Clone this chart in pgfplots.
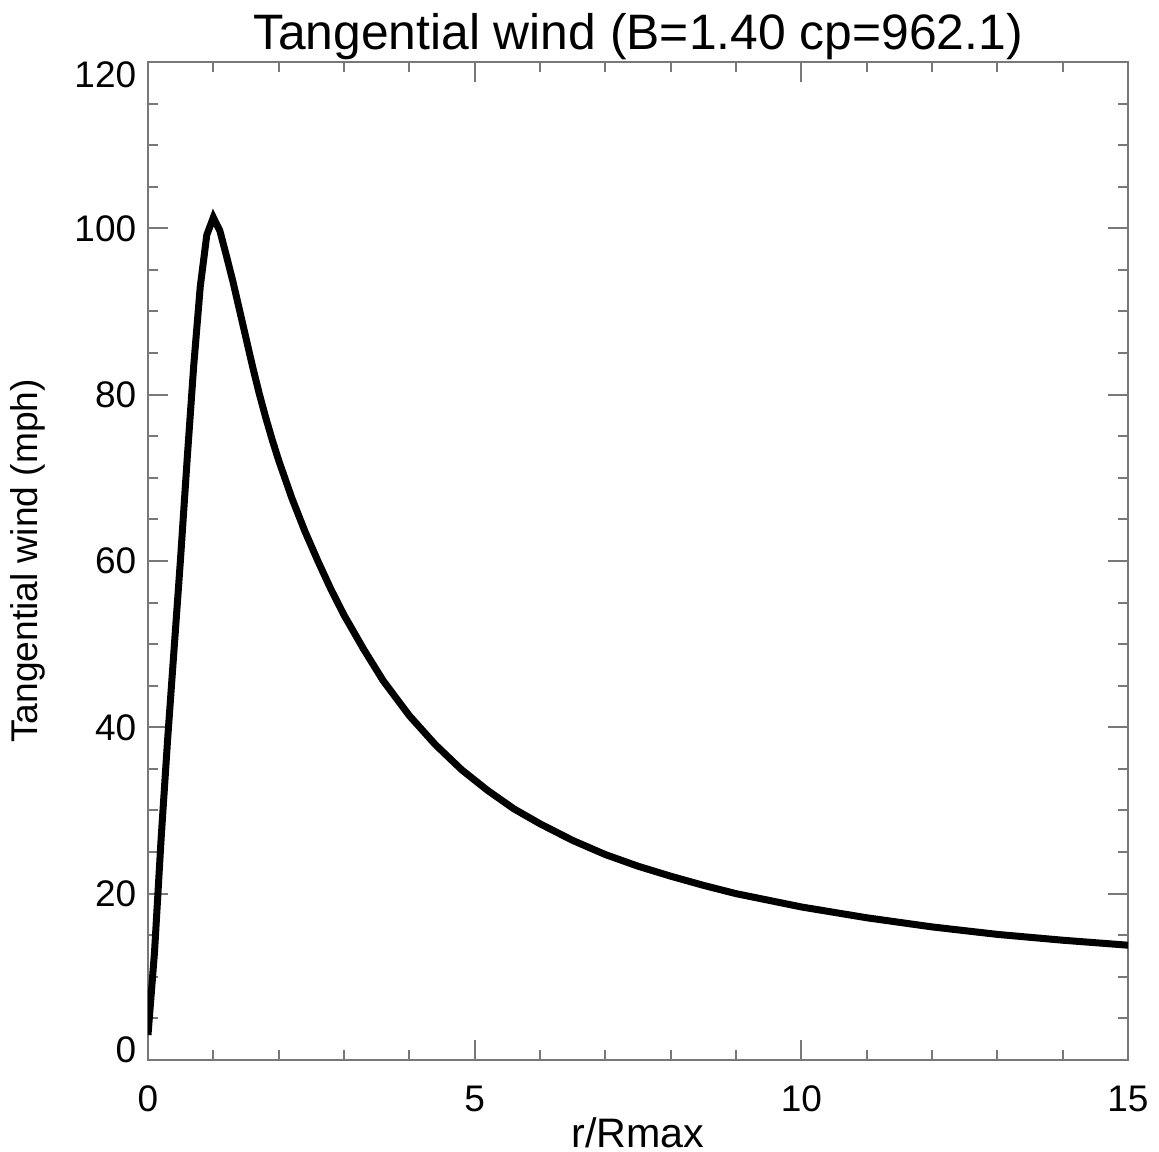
\documentclass[border=0pt]{standalone}
\usepackage{fontspec}
\setmainfont{Liberation Sans}
\usepackage{pgfplots}
\pgfplotsset{compat=1.18}
\definecolor{axgray}{RGB}{120,120,120}
\begin{document}
\begin{tikzpicture}
\begin{axis}[
  scale only axis,
  width=245pt, height=249.5pt,
  xmin=0, xmax=15, ymin=0, ymax=120,
  xtick={0,5,10,15}, ytick={0,20,40,60,80,100,120},
  yticklabels={\raisebox{2.5pt}[\height][\depth]{0},20,40,60,80,100,\raisebox{-3.25pt}[\height][\depth]{120}},
  minor x tick num=4, minor y tick num=3,
  tick align=inside,
  major tick length=5pt, minor tick length=2.5pt,
  axis line style={axgray, line width=0.5pt},
  every tick/.style={axgray, line width=0.5pt},
  /pgf/number format/assume math mode=true,
  xticklabel style={font=\fontsize{9.25}{11}\selectfont, anchor=base, inner sep=0pt, yshift=-13pt},
  yticklabel style={font=\fontsize{9.25}{11}\selectfont, anchor=east, inner sep=0pt, xshift=-2.75pt},
  title={Tangential wind (B=1.40 cp=962.1)},
  title style={at={(axis description cs:0.5,1)}, anchor=base, yshift=-3pt, inner sep=0pt, font=\fontsize{12.45}{14}\selectfont},
  xlabel={r/Rmax},
  xlabel style={at={(axis description cs:0.5,0)}, anchor=base, yshift=-22pt, inner sep=0pt, font=\fontsize{10.3}{12}\selectfont},
  ylabel={Tangential wind (mph)},
  ylabel style={at={(axis description cs:0,0.5)}, anchor=base, yshift=27.5pt, inner sep=0pt, font=\fontsize{9.3}{11}\selectfont},
]
\addplot[black, line width=1.75pt, line join=miter] table {
x y
0 3.0
0.1 13.0
0.2 26.5
0.3 38.5
0.4 49.5
0.5 60.5
0.6 72.3
0.7 83.5
0.8 93.0
0.9 99.2
1.0 101.3
1.1 99.7
1.2 96.7
1.3 93.6
1.4 90.2
1.5 86.8
1.6 83.4
1.7 80.2
1.8 77.3
1.9 74.6
2.0 72.1
2.2 67.6
2.4 63.6
2.6 60.0
2.8 56.6
3.0 53.5
3.3 49.4
3.6 45.6
4.0 41.4
4.4 37.9
4.8 34.9
5.2 32.4
5.6 30.2
6.0 28.4
6.5 26.4
7.0 24.7
7.5 23.3
8.0 22.1
8.5 21.0
9.0 20.0
9.5 19.2
10.0 18.4
11.0 17.1
12.0 16.0
13.0 15.1
14.0 14.4
15.0 13.8
};
\end{axis}
\pgfresetboundingbox
\useasboundingbox (-37pt,-23pt) rectangle (252.75pt,265pt);
\end{tikzpicture}
\end{document}
